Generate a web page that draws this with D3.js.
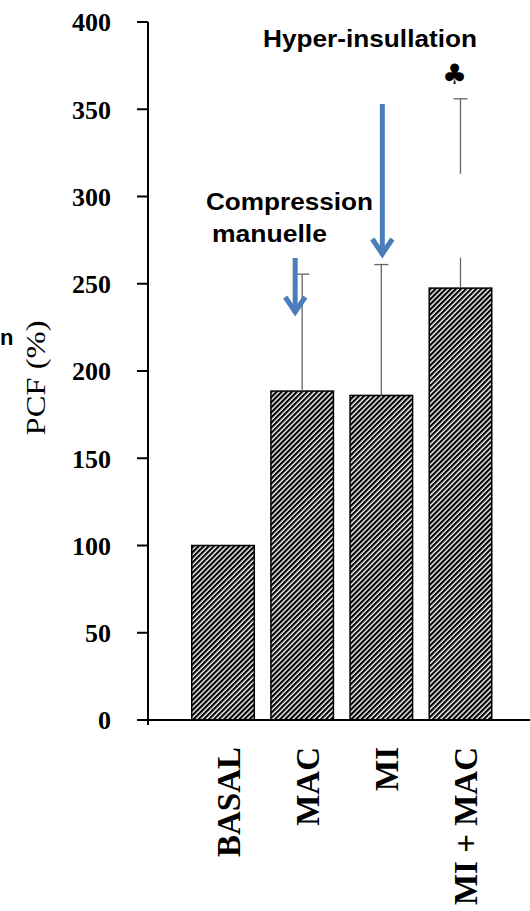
<!DOCTYPE html>
<html>
<head>
<meta charset="utf-8">
<script src="https://cdn.jsdelivr.net/npm/d3@7"></script>
<style>
  html, body { margin: 0; padding: 0; background: #fff; }
  svg { display: block; }
</style>
</head>
<body>
<div id="chart"></div>
<script>
// PCF (%) by condition, mean with upper error bar
const categories = ["BASAL", "MAC", "MI", "MI + MAC"];
const means = [100, 188.5, 186, 247.5];
const errorTops = [null, 255.5, 261, 356];
const yTicks = [0, 50, 100, 150, 200, 250, 300, 350, 400];

const W = 530, H = 911;
const svg = d3.select("#chart").append("svg")
  .attr("width", W).attr("height", H);

// diagonal hatch fill for the bars
const defs = svg.append("defs");
const pat = defs.append("pattern")
  .attr("id", "hatch")
  .attr("patternUnits", "userSpaceOnUse")
  .attr("width", 3.6).attr("height", 3.6)
  .attr("patternTransform", "rotate(45)");
pat.append("rect").attr("width", 3.6).attr("height", 3.6).attr("fill", "#fff");
pat.append("rect").attr("width", 2.2).attr("height", 3.6).attr("fill", "#000");

const y = d3.scaleLinear().domain([0, 400]).range([720, 22]);
const x = d3.scaleBand().domain(categories).range([191.75, 491.75])
  .paddingInner(0.21).paddingOuter(0);
const axisX = 148;

// bars
svg.append("g").selectAll("rect").data(categories).join("rect")
  .attr("x", d => x(d))
  .attr("y", (d, i) => y(means[i]))
  .attr("width", x.bandwidth())
  .attr("height", (d, i) => y(0) - y(means[i]))
  .attr("fill", "url(#hatch)")
  .attr("stroke", "#000")
  .attr("stroke-width", 1.5);

// upper error bars
const eb = svg.append("g").attr("stroke", "#666").attr("stroke-width", 1.3);
categories.forEach((c, i) => {
  if (errorTops[i] == null) return;
  const cx = x(c) + x.bandwidth() / 2;
  eb.append("line").attr("x1", cx).attr("x2", cx)
    .attr("y1", y(means[i])).attr("y2", y(errorTops[i]));
  eb.append("line").attr("x1", cx - 7).attr("x2", cx + 7)
    .attr("y1", y(errorTops[i])).attr("y2", y(errorTops[i]));
});
// blank backdrop behind the MI + MAC whisker
{
  const cx = x("MI + MAC") + x.bandwidth() / 2;
  svg.append("rect").attr("x", cx - 5).attr("width", 10)
    .attr("y", y(313)).attr("height", y(265) - y(313))
    .attr("fill", "#fff");
}

// y axis
const ya = svg.append("g");
ya.append("line").attr("x1", axisX).attr("x2", axisX)
  .attr("y1", y(400)).attr("y2", y(0) + 5)
  .attr("stroke", "#000").attr("stroke-width", 2);
ya.selectAll("line.tick").data(yTicks).join("line")
  .attr("class", "tick")
  .attr("x1", 137).attr("x2", axisX)
  .attr("y1", d => y(d)).attr("y2", d => y(d))
  .attr("stroke", "#000").attr("stroke-width", 2);
ya.selectAll("text").data(yTicks).join("text")
  .attr("x", 111).attr("y", d => y(d))
  .attr("dy", "0.36em")
  .attr("text-anchor", "end")
  .attr("font-family", "'Liberation Serif', 'Times New Roman', serif")
  .attr("font-weight", "bold")
  .attr("font-size", 26)
  .text(d => d);

// x axis baseline
svg.append("line").attr("x1", 137).attr("x2", W)
  .attr("y1", y(0)).attr("y2", y(0))
  .attr("stroke", "#000").attr("stroke-width", 2);

// category labels, rotated
svg.append("g").selectAll("text").data(categories).join("text")
  .attr("transform", d => `translate(${x(d) + x.bandwidth() / 2 + 17},747) rotate(-90)`)
  .attr("text-anchor", "end")
  .attr("font-family", "'Liberation Serif', 'Times New Roman', serif")
  .attr("font-weight", "bold")
  .attr("font-size", 33)
  .text(d => d);

// y axis title
svg.append("text")
  .attr("transform", "translate(45,378) rotate(-90)")
  .attr("text-anchor", "middle")
  .attr("font-family", "'Liberation Serif', 'Times New Roman', serif")
  .attr("font-size", 28)
  .attr("textLength", 115)
  .attr("lengthAdjust", "spacingAndGlyphs")
  .text("PCF (%)");

// annotations
const sans = "'Liberation Sans', Arial, sans-serif";
const blue = "#4a7ebb";
function arrow(cx, yTop, yTip) {
  const g = svg.append("g").attr("stroke", blue).attr("fill", "none")
    .attr("stroke-width", 5);
  g.append("line").attr("x1", cx).attr("x2", cx)
    .attr("y1", yTop).attr("y2", yTip - 3);
  g.append("polyline")
    .attr("points", `${cx - 10},${yTip - 19} ${cx},${yTip - 4} ${cx + 10},${yTip - 19}`)
    .attr("stroke-linejoin", "miter")
    .attr("stroke-linecap", "butt");
}
const miX = x("MI") + x.bandwidth() / 2;
const macX = x("MAC") + x.bandwidth() / 2;
arrow(miX + 1, 104, 258);
arrow(macX - 7, 258, 316);

svg.append("text").attr("x", 263).attr("y", 47)
  .attr("font-family", sans).attr("font-weight", "bold")
  .attr("font-size", 24).attr("textLength", 214)
  .attr("lengthAdjust", "spacingAndGlyphs")
  .text("Hyper-insullation");
svg.append("text").attr("x", 206).attr("y", 210)
  .attr("font-family", sans).attr("font-weight", "bold")
  .attr("font-size", 24).attr("textLength", 167)
  .attr("lengthAdjust", "spacingAndGlyphs")
  .text("Compression");
svg.append("text").attr("x", 212).attr("y", 242)
  .attr("font-family", sans).attr("font-weight", "bold")
  .attr("font-size", 24).attr("textLength", 115)
  .attr("lengthAdjust", "spacingAndGlyphs")
  .text("manuelle");
svg.append("text").attr("x", 0).attr("y", 345)
  .attr("font-family", sans).attr("font-weight", "bold")
  .attr("font-size", 22)
  .text("n");

// significance mark
svg.append("text")
  .attr("x", x("MI + MAC") + x.bandwidth() / 2 - 6).attr("y", 84)
  .attr("text-anchor", "middle")
  .attr("font-family", "'DejaVu Sans', sans-serif")
  .attr("font-size", 28)
  .text("♣");
</script>
</body>
</html>
